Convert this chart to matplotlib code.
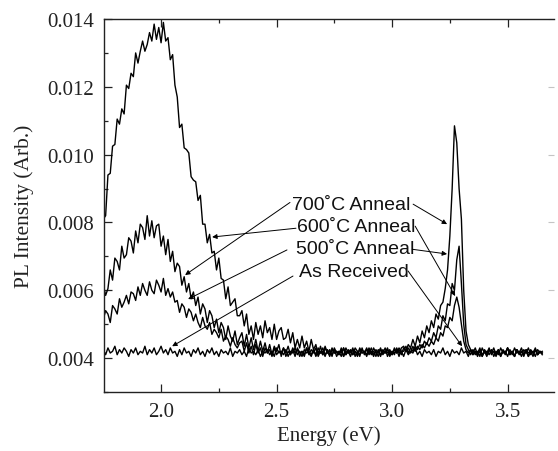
import numpy as np
import matplotlib
matplotlib.use('Agg')
import matplotlib.pyplot as plt
from matplotlib.ticker import MultipleLocator, FormatStrFormatter, NullLocator

# Photon energy grid (eV), one reading every 0.01 eV from 1.75 to 3.65.
energy = np.round(1.75 + 0.01 * np.arange(191), 2)

# PL intensities, in units of 1e-3 (arb.).
# Each row holds ten readings; the row comment gives its first energy.
anneal_600 = [
    8.1, 8.2, 9.4, 9.45, 10.25, 10.3, 11.05, 10.9, 11.35, 11.2,  # 1.75
    12.05, 11.95, 12.4, 12.3, 13.0, 12.7, 13.05, 13.35, 13.05, 13.25,  # 1.85
    13.6, 13.35, 13.85, 13.4, 13.75, 13.3, 13.9, 13.35, 13.45, 12.8,  # 1.95
    12.95, 12.05, 11.7, 10.8, 10.9, 10.2, 10.15, 10.05, 9.35, 9.25,  # 2.05
    9.2, 8.65, 8.8, 7.95, 7.95, 7.4, 7.65, 7.1, 7.15, 6.6,  # 2.15
    6.95, 6.35, 6.3, 5.75, 6.1, 5.55, 5.65, 5.75, 5.25, 5.25,  # 2.25
    5.4, 4.95, 5.3, 4.7, 4.95, 4.55, 5.05, 4.7, 4.95, 4.6,  # 2.35
    5.1, 4.75, 4.9, 4.55, 5.0, 4.55, 4.8, 4.9, 4.55, 4.6,  # 2.45
    4.85, 4.45, 4.75, 4.3, 4.55, 4.3, 4.65, 4.3, 4.5, 4.2,  # 2.55
    4.55, 4.25, 4.4, 4.1, 4.35, 4.1, 4.3, 4.15, 4.25, 4.05,  # 2.65
    4.3, 4.15, 4.2, 4.05, 4.3, 4.1, 4.25, 4.15, 4.3, 4.05,  # 2.75
    4.2, 4.1, 4.25, 4.15, 4.3, 4.1, 4.2, 4.05, 4.25, 4.15,  # 2.85
    4.3, 4.1, 4.2, 4.15, 4.25, 4.1, 4.3, 4.15, 4.25, 4.1,  # 2.95
    4.3, 4.2, 4.3, 4.15, 4.35, 4.2, 4.35, 4.25, 4.4, 4.3,  # 3.05
    4.45, 4.35, 4.5, 4.4, 4.6, 4.5, 4.75, 4.65, 4.95, 4.9,  # 3.15
    5.2, 5.1, 5.55, 5.8, 5.5, 5.0, 4.5, 4.25, 4.15, 4.25,  # 3.25
    4.1, 4.2, 4.05, 4.25, 4.1, 4.2, 4.05, 4.25, 4.15, 4.3,  # 3.35
    4.1, 4.2, 4.05, 4.25, 4.15, 4.3, 4.1, 4.2, 4.05, 4.25,  # 3.45
    4.1, 4.2, 4.05, 4.25, 4.15, 4.2, 4.05, 4.25, 4.1, 4.2,  # 3.55
    4.1,  # 3.65
]

anneal_700 = [
    6.15, 5.85, 6.05, 6.6, 6.3, 6.95, 6.85, 6.6, 7.3, 6.95,  # 1.75
    7.05, 7.55, 7.45, 7.1, 7.75, 7.4, 7.95, 7.85, 7.5, 8.2,  # 1.85
    7.6, 8.05, 7.55, 7.9, 7.95, 7.3, 7.6, 7.05, 7.5, 6.85,  # 1.95
    7.15, 6.55, 6.8, 6.7, 6.15, 6.4, 5.95, 6.2, 5.75, 5.95,  # 2.05
    5.55, 5.8, 5.3, 5.6, 5.45, 5.05, 5.4, 5.25, 4.9, 5.15,  # 2.15
    4.75, 5.05, 4.9, 4.55, 4.95, 4.65, 4.5, 4.8, 4.4, 4.6,  # 2.25
    4.75, 4.35, 4.7, 4.3, 4.6, 4.25, 4.55, 4.2, 4.5, 4.2,  # 2.35
    4.45, 4.15, 4.4, 4.1, 4.35, 4.2, 4.4, 4.05, 4.3, 4.15,  # 2.45
    4.35, 4.1, 4.25, 4.05, 4.3, 4.15, 4.2, 4.05, 4.3, 4.1,  # 2.55
    4.25, 4.15, 4.3, 4.05, 4.2, 4.1, 4.35, 4.15, 4.2, 4.1,  # 2.65
    4.25, 4.05, 4.2, 4.15, 4.3, 4.1, 4.2, 4.05, 4.25, 4.2,  # 2.75
    4.1, 4.3, 4.15, 4.2, 4.05, 4.25, 4.1, 4.3, 4.15, 4.2,  # 2.85
    4.05, 4.25, 4.15, 4.3, 4.1, 4.2, 4.15, 4.25, 4.05, 4.3,  # 2.95
    4.35, 4.2, 4.4, 4.3, 4.55, 4.35, 4.65, 4.45, 4.8, 4.6,  # 3.05
    4.95, 4.75, 5.1, 4.9, 5.3, 5.15, 5.55, 5.65, 6.05, 6.6,  # 3.15
    7.6, 9.0, 10.85, 10.35, 9.0, 8.1, 6.0, 4.8, 4.4, 4.25,  # 3.25
    4.15, 4.3, 4.1, 4.2, 4.05, 4.25, 4.15, 4.3, 4.1, 4.2,  # 3.35
    4.15, 4.25, 4.05, 4.2, 4.1, 4.3, 4.15, 4.2, 4.05, 4.25,  # 3.45
    4.15, 4.3, 4.1, 4.2, 4.05, 4.25, 4.15, 4.25, 4.1, 4.2,  # 3.55
    4.15,  # 3.65
]

anneal_500 = [
    5.15, 5.4, 5.3, 5.05, 5.55, 5.45, 5.3, 5.75, 5.5, 5.65,  # 1.75
    5.85, 5.6, 5.95, 5.9, 5.7, 6.1, 5.85, 6.2, 6.0, 5.85,  # 1.85
    6.25, 6.0, 5.9, 6.3, 6.15, 5.95, 6.35, 5.85, 6.05, 5.8,  # 1.95
    5.95, 5.65, 5.7, 5.35, 5.6, 5.5, 5.2, 5.45, 5.35, 5.1,  # 2.05
    5.3, 5.05, 4.9, 5.2, 4.95, 4.85, 5.05, 4.7, 4.85, 4.75,  # 2.15
    4.6, 4.85, 4.5, 4.65, 4.55, 4.35, 4.6, 4.4, 4.3, 4.45,  # 2.25
    4.5, 4.2, 4.45, 4.15, 4.35, 4.1, 4.4, 4.15, 4.3, 4.05,  # 2.35
    4.3, 4.15, 4.25, 4.05, 4.3, 4.1, 4.2, 4.15, 4.3, 4.05,  # 2.45
    4.2, 4.1, 4.3, 4.15, 4.25, 4.05, 4.2, 4.1, 4.3, 4.15,  # 2.55
    4.05, 4.25, 4.1, 4.3, 4.15, 4.2, 4.05, 4.25, 4.1, 4.3,  # 2.65
    4.15, 4.2, 4.1, 4.25, 4.05, 4.3, 4.15, 4.2, 4.1, 4.3,  # 2.75
    4.2, 4.05, 4.3, 4.1, 4.25, 4.15, 4.3, 4.1, 4.2, 4.05,  # 2.85
    4.25, 4.15, 4.3, 4.05, 4.2, 4.1, 4.25, 4.15, 4.3, 4.2,  # 2.95
    4.2, 4.35, 4.15, 4.3, 4.2, 4.35, 4.25, 4.4, 4.3, 4.5,  # 3.05
    4.4, 4.6, 4.5, 4.75, 4.6, 4.95, 4.85, 5.25, 5.1, 5.6,  # 3.15
    5.55, 6.2, 6.0, 6.9, 7.3, 6.2, 5.0, 4.4, 4.25, 4.1,  # 3.25
    4.25, 4.1, 4.2, 4.05, 4.3, 4.15, 4.2, 4.1, 4.25, 4.05,  # 3.35
    4.2, 4.1, 4.3, 4.15, 4.2, 4.05, 4.25, 4.1, 4.3, 4.15,  # 3.45
    4.2, 4.05, 4.25, 4.15, 4.3, 4.1, 4.2, 4.05, 4.25, 4.15,  # 3.55
    4.2,  # 3.65
]

as_received = [
    4.25, 4.1, 4.3, 4.15, 4.2, 4.35, 4.1, 4.25, 4.15, 4.3,  # 1.75
    4.2, 4.05, 4.25, 4.15, 4.3, 4.1, 4.2, 4.15, 4.35, 4.1,  # 1.85
    4.25, 4.15, 4.3, 4.1, 4.2, 4.35, 4.15, 4.25, 4.1, 4.3,  # 1.95
    4.15, 4.2, 4.05, 4.25, 4.1, 4.3, 4.15, 4.2, 4.05, 4.25,  # 2.05
    4.15, 4.3, 4.1, 4.2, 4.05, 4.25, 4.15, 4.3, 4.1, 4.2,  # 2.15
    4.05, 4.25, 4.15, 4.2, 4.1, 4.3, 4.05, 4.2, 4.15, 4.25,  # 2.25
    4.1, 4.2, 4.05, 4.3, 4.15, 4.2, 4.1, 4.25, 4.05, 4.2,  # 2.35
    4.15, 4.25, 4.1, 4.2, 4.05, 4.3, 4.15, 4.2, 4.1, 4.25,  # 2.45
    4.05, 4.2, 4.15, 4.3, 4.1, 4.2, 4.05, 4.25, 4.15, 4.2,  # 2.55
    4.1, 4.25, 4.05, 4.2, 4.15, 4.3, 4.1, 4.2, 4.05, 4.25,  # 2.65
    4.15, 4.2, 4.1, 4.3, 4.05, 4.2, 4.15, 4.25, 4.1, 4.2,  # 2.75
    4.05, 4.25, 4.15, 4.2, 4.1, 4.3, 4.15, 4.2, 4.05, 4.25,  # 2.85
    4.1, 4.2, 4.15, 4.25, 4.05, 4.2, 4.1, 4.3, 4.15, 4.2,  # 2.95
    4.05, 4.25, 4.1, 4.2, 4.15, 4.3, 4.1, 4.2, 4.05, 4.25,  # 3.05
    4.15, 4.2, 4.1, 4.25, 4.05, 4.2, 4.15, 4.3, 4.1, 4.2,  # 3.15
    4.05, 4.25, 4.15, 4.2, 4.1, 4.3, 4.15, 4.2, 4.05, 4.25,  # 3.25
    4.1, 4.2, 4.15, 4.3, 4.05, 4.2, 4.1, 4.25, 4.15, 4.2,  # 3.35
    4.05, 4.25, 4.1, 4.2, 4.15, 4.3, 4.1, 4.2, 4.05, 4.25,  # 3.45
    4.15, 4.2, 4.1, 4.25, 4.05, 4.2, 4.15, 4.3, 4.1, 4.2,  # 3.55
    4.15,  # 3.65
]

# Label text, where it sits, and the two points each of its lines runs to:
# (text anchor, left line start -> tip, right line start -> tip), in data units.
labels = ['700\u02daC Anneal', '600\u02daC Anneal', '500\u02daC Anneal', 'As Received']
label_pos = [(2.565, 0.00840), (2.588, 0.00775), (2.585, 0.00710), (2.595, 0.00642)]
left_lines = [((2.558, 0.00859), (2.104, 0.00645)),
              ((2.584, 0.00783), (2.221, 0.00757)),
              ((2.545, 0.00719), (2.117, 0.00574)),
              ((2.571, 0.00642), (2.048, 0.00435))]
right_lines = [((3.091, 0.00854), (3.238, 0.00795)),
               ((3.100, 0.00789), (3.273, 0.00583)),
               ((3.087, 0.00721), (3.238, 0.00707)),
               ((3.069, 0.00657), (3.303, 0.00435))]

fig = plt.figure(figsize=(5.58, 4.52), dpi=100)
ax = fig.add_axes([0.1864, 0.1305, 0.8065, 0.8252])

for series in (anneal_600, anneal_700, anneal_500, as_received):
    ax.plot(energy, np.array(series) * 1e-3, color='black', lw=1.0)

arrow = dict(arrowstyle='-|>', color='black', lw=0.7, mutation_scale=7,
             shrinkA=0, shrinkB=0)
for text, pos, left, right in zip(labels, label_pos, left_lines, right_lines):
    ax.text(pos[0], pos[1], text, ha='left', va='baseline', fontsize=14,
            family=['Liberation Sans', 'DejaVu Sans'], color='#111111')
    ax.annotate('', xy=left[1], xytext=left[0], arrowprops=arrow)
    ax.annotate('', xy=right[1], xytext=right[0], arrowprops=arrow)

ax.set_xlim(1.753, 3.701)
ax.set_ylim(0.003, 0.014)
ax.xaxis.set_major_locator(MultipleLocator(0.5))
ax.xaxis.set_minor_locator(MultipleLocator(0.25))
ax.yaxis.set_major_locator(MultipleLocator(0.002))
ax.yaxis.set_minor_locator(MultipleLocator(0.001))
ax.xaxis.set_major_formatter(FormatStrFormatter('%.1f'))
ax.yaxis.set_major_formatter(FormatStrFormatter('%.3f'))

ax.tick_params(which='both', direction='in', top=True, right=False,
               color='#222222', width=0.9)
ax.tick_params(which='major', length=6, labelsize=15, pad=7,
               labelcolor='#222222', labelfontfamily='Liberation Serif')
ax.tick_params(which='minor', length=3)

for side in ('left', 'bottom', 'top'):
    ax.spines[side].set_linewidth(1.0)
    ax.spines[side].set_color('#222222')
ax.spines['right'].set_visible(False)

# The right-hand ticks are barely visible in the original, and majors only.
sec = ax.secondary_yaxis('right')
sec.yaxis.set_major_locator(MultipleLocator(0.002))
sec.yaxis.set_minor_locator(NullLocator())
sec.tick_params(which='major', direction='in', length=4, color='#c4c4c4',
                labelright=False)
sec.spines['right'].set_visible(False)

ax.set_xlabel('Energy (eV)', fontsize=15, family='Liberation Serif',
              color='#222222', labelpad=3)
ax.set_ylabel('PL Intensity (Arb.)', fontsize=15.5, family='Liberation Serif',
              color='#222222', labelpad=10)

fig.savefig('out.png', dpi=100)
